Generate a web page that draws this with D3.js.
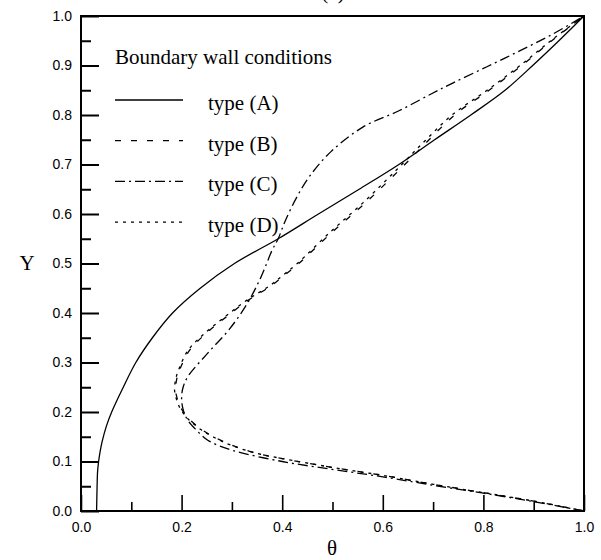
<!DOCTYPE html>
<html>
<head>
<meta charset="utf-8">
<script src="https://cdn.jsdelivr.net/npm/d3@7"></script>
<style>
body{margin:0;background:#fff;}
.tick text{font-family:"Liberation Sans",Arial,sans-serif;font-size:14px;fill:#000;}
.serif{font-family:"Liberation Serif","Times New Roman",serif;fill:#000;}
</style>
</head>
<body>
<div id="chart"></div>
<script>
var w = 601;
var h = 560;
// plot frame edges (note: "top" is reserved on window)
var plotLeft = 81, plotRight = 584, plotTop = 16, plotBottom = 511;

// tick values
var majorTicks = [0.0, 0.2, 0.4, 0.6, 0.8, 1.0];
var xMinorTicks = [0.1, 0.3, 0.5, 0.7, 0.9];
var yMajorTicks = [0.0, 0.1, 0.2, 0.3, 0.4, 0.5, 0.6, 0.7, 0.8, 0.9, 1.0];
var yMinorTicks = [0.05, 0.15, 0.25, 0.35, 0.45, 0.55, 0.65, 0.75, 0.85, 0.95];

var legendTitle = "Boundary wall conditions";
var seriesNames = ["type (A)", "type (B)", "type (C)", "type (D)"];

// type (A): solid
var yA =     [0, 0.05, 0.08, 0.1, 0.12, 0.14, 0.17, 0.2, 0.25, 0.3, 0.35, 0.4, 0.45, 0.5, 0.55, 0.6, 0.65, 0.7, 0.75, 0.8, 0.85, 0.9, 0.95, 1.0];
var thetaA = [0.031, 0.032, 0.033, 0.035, 0.038, 0.042, 0.05, 0.061, 0.084, 0.109, 0.142, 0.182, 0.237, 0.305, 0.392, 0.472, 0.553, 0.632, 0.703, 0.775, 0.843, 0.898, 0.95, 1.0];

// type (B): dashed (almost on top of D)
var yB =     [0, 0.02, 0.037, 0.054, 0.072, 0.088, 0.106, 0.116, 0.133, 0.15, 0.164, 0.185, 0.204, 0.225, 0.244, 0.265, 0.285, 0.325, 0.359, 0.393, 0.426, 0.455, 0.475, 0.5, 0.563, 0.623, 0.69, 0.748, 0.802, 0.849, 0.9, 0.954, 1.0];
var thetaB = [1.0, 0.9, 0.8, 0.7, 0.6, 0.5, 0.4, 0.352, 0.3, 0.264, 0.241, 0.216, 0.201, 0.192, 0.188, 0.19, 0.196, 0.216, 0.249, 0.29, 0.333, 0.378, 0.403, 0.433, 0.499, 0.566, 0.634, 0.69, 0.745, 0.81, 0.876, 0.941, 1.0];

// type (C): dash-dot
var yC =     [0, 0.019, 0.036, 0.052, 0.069, 0.084, 0.1, 0.123, 0.143, 0.165, 0.184, 0.205, 0.23, 0.25, 0.271, 0.319, 0.366, 0.42, 0.473, 0.527, 0.55, 0.586, 0.636, 0.677, 0.726, 0.776, 0.808, 0.843, 0.865, 0.897, 0.93, 0.964, 1.0];
var thetaC = [1.0, 0.9, 0.8, 0.7, 0.6, 0.5, 0.4, 0.3, 0.252, 0.228, 0.212, 0.203, 0.2, 0.203, 0.212, 0.252, 0.294, 0.331, 0.358, 0.38, 0.392, 0.406, 0.43, 0.455, 0.497, 0.561, 0.631, 0.697, 0.74, 0.806, 0.873, 0.939, 1.0];

// type (D): dotted
var yD =     [0, 0.02, 0.037, 0.054, 0.072, 0.088, 0.106, 0.116, 0.133, 0.15, 0.164, 0.185, 0.204, 0.225, 0.244, 0.265, 0.285, 0.325, 0.359, 0.393, 0.426, 0.455, 0.475, 0.5, 0.563, 0.623, 0.69, 0.748, 0.802, 0.849, 0.9, 0.954, 1.0];
var thetaD = [1.0, 0.9, 0.8, 0.7, 0.6, 0.5, 0.4, 0.351, 0.298, 0.262, 0.239, 0.214, 0.199, 0.19, 0.186, 0.188, 0.194, 0.213, 0.246, 0.287, 0.33, 0.375, 0.4, 0.43, 0.495, 0.561, 0.628, 0.684, 0.74, 0.806, 0.873, 0.939, 1.0];

var dashes = [null, "6,10", "10,4,2,4", "3,5"];
var seriesY = [yA, yB, yC, yD];
var seriesTheta = [thetaA, thetaB, thetaC, thetaD];

var xScale = d3.scaleLinear().domain([0, 1]).range([plotLeft, plotRight]);
var yScale = d3.scaleLinear().domain([0, 1]).range([plotBottom, plotTop]);

var svg = d3.select("#chart").append("svg")
  .attr("width", w)
  .attr("height", h);

svg.append("rect").attr("width", w).attr("height", h).attr("fill", "#fff");

var fmt = d3.format(".1f");

//x axis, ticks pointing inward
svg.append("g")
  .attr("transform", "translate(0," + plotBottom + ")")
  .call(d3.axisBottom(xScale).tickValues(xMinorTicks).tickSize(-9).tickFormat(""))
  .call(function(g){ g.select(".domain").remove(); })
  .selectAll("line").attr("stroke-width", 1.6);
svg.append("g")
  .attr("transform", "translate(0," + plotBottom + ")")
  .call(d3.axisBottom(xScale).tickValues(majorTicks).tickSize(-16).tickPadding(11).tickFormat(fmt))
  .call(function(g){ g.select(".domain").remove(); })
  .selectAll("line").attr("stroke-width", 1.6);

//y axis
svg.append("g")
  .attr("transform", "translate(" + plotLeft + ",0)")
  .call(d3.axisLeft(yScale).tickValues(yMinorTicks).tickSize(-10).tickFormat(""))
  .call(function(g){ g.select(".domain").remove(); })
  .selectAll("line").attr("stroke-width", 2);
svg.append("g")
  .attr("transform", "translate(" + plotLeft + ",0)")
  .call(d3.axisLeft(yScale).tickValues(yMajorTicks).tickSize(-18).tickPadding(9).tickFormat(fmt))
  .call(function(g){ g.select(".domain").remove(); })
  .selectAll("line").attr("stroke-width", 2);

// frame
svg.append("rect")
  .attr("x", plotLeft)
  .attr("y", plotTop)
  .attr("width", plotRight - plotLeft)
  .attr("height", plotBottom - plotTop)
  .attr("fill", "none")
  .attr("stroke", "#000")
  .attr("stroke-width", 2);

// curves
var line = d3.line()
  .x(function(d){ return xScale(d.theta); })
  .y(function(d){ return yScale(d.y); })
  .curve(d3.curveCatmullRom.alpha(0.5));

for (var i = 0; i < seriesNames.length; i++) {
  var pts = seriesY[i].map(function(v, j){ return {y: v, theta: seriesTheta[i][j]}; });
  svg.append("path")
    .datum(pts)
    .attr("d", line)
    .attr("fill", "none")
    .attr("stroke", "#000")
    .attr("stroke-width", 1.3)
    .attr("stroke-dasharray", dashes[i]);
}

// legend
svg.append("text")
  .attr("class", "serif")
  .attr("x", 115)
  .attr("y", 64)
  .style("font-size", "21px")
  .text(legendTitle);

for (var i = 0; i < seriesNames.length; i++) {
  var ly = 100 + i * 40.7;
  svg.append("line")
    .attr("x1", 115).attr("x2", 183)
    .attr("y1", ly).attr("y2", ly)
    .attr("stroke", "#000")
    .attr("stroke-width", 1.3)
    .attr("stroke-dasharray", dashes[i]);
  svg.append("text")
    .attr("class", "serif")
    .attr("x", 208)
    .attr("y", ly + 10)
    .style("font-size", "21px")
    .text(seriesNames[i]);
}

// axis titles
svg.append("text")
  .attr("class", "serif")
  .attr("x", 27)
  .attr("y", 270)
  .style("text-anchor", "middle")
  .style("font-size", "21px")
  .text("Y");

svg.append("text")
  .attr("class", "serif")
  .attr("x", 332)
  .attr("y", 555)
  .style("text-anchor", "middle")
  .style("font-size", "21px")
  .text("θ");

// panel label, cut off at the top edge like the scan
svg.append("text")
  .attr("class", "serif")
  .attr("x", 333)
  .attr("y", -1)
  .style("text-anchor", "middle")
  .style("font-size", "21px")
  .text("(c)");
</script>
</body>
</html>
